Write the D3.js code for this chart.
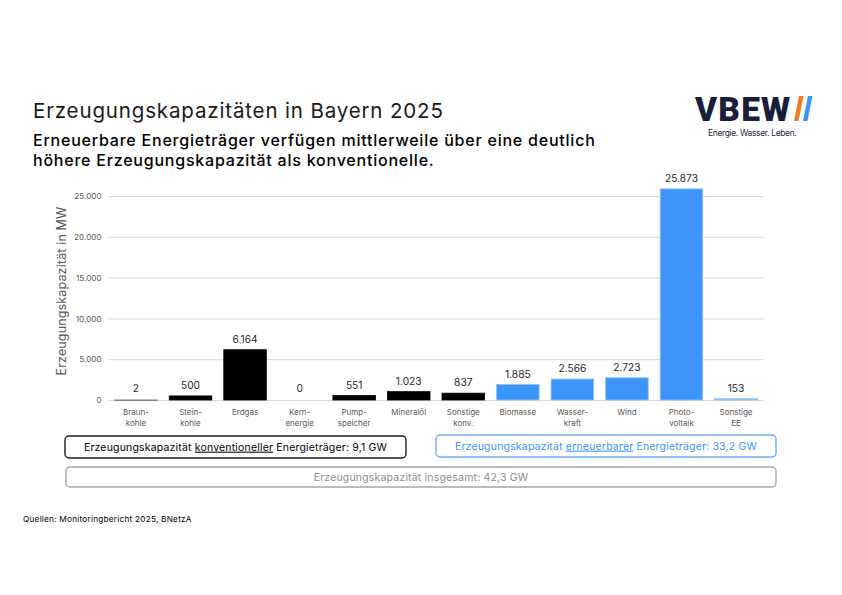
<!DOCTYPE html>
<html>
<head>
<meta charset="utf-8">
<script src="https://cdn.jsdelivr.net/npm/d3@7"></script>
<style>
  body { margin: 0; background: #fff; }
  svg { font-family: Inter, "Noto Sans", sans-serif; }
</style>
</head>
<body>
<svg width="842" height="595"></svg>
<script>
// chart data
const categories = ['Braunkohle', 'Steinkohle', 'Erdgas', 'Kernenergie', 'Pumpspeicher', 'Mineralöl',
  'Sonstige konv.', 'Biomasse', 'Wasserkraft', 'Wind', 'Photovoltaik', 'Sonstige EE'];
const categoryLines = [['Braun-', 'kohle'], ['Stein-', 'kohle'], ['Erdgas'], ['Kern-', 'energie'],
  ['Pump-', 'speicher'], ['Mineralöl'], ['Sonstige', 'konv.'], ['Biomasse'], ['Wasser-', 'kraft'],
  ['Wind'], ['Photo-', 'voltaik'], ['Sonstige', 'EE']];
const values = [2, 500, 6164, 0, 551, 1023, 837, 1885, 2566, 2723, 25873, 153];
const groups = ['konv', 'konv', 'konv', 'konv', 'konv', 'konv', 'konv', 'ee', 'ee', 'ee', 'ee', 'ee'];
const yTicks = [0, 5000, 10000, 15000, 20000, 25000];

const svg = d3.select('svg');
const fmt = d3.formatLocale({ decimal: ',', thousands: '.', grouping: [3], currency: ['', '€'] }).format(',d');

const margin = { left: 108.7, right: 842 - 763.3, top: 196, bottom: 595 - 400 };
const innerW = 842 - margin.left - margin.right;
const innerH = 595 - margin.top - margin.bottom;

const x = d3.scaleBand().domain(categories).range([0, innerW]).paddingInner(0.22).paddingOuter(0.11);
const y = d3.scaleLinear().domain([0, 25000]).range([innerH, 0]);

const g = svg.append('g').attr('transform', `translate(${margin.left},${margin.top})`);

// title block
svg.append('text').attr('x', 33).attr('y', 118)
  .attr('font-size', 20.5).attr('fill', '#1a1a1a').attr('letter-spacing', 0.85)
  .text('Erzeugungskapazitäten in Bayern 2025');
svg.append('text').attr('x', 33).attr('y', 146)
  .attr('font-size', 16).attr('font-weight', 500).attr('fill', '#000').attr('letter-spacing', 0.78)
  .text('Erneuerbare Energieträger verfügen mittlerweile über eine deutlich');
svg.append('text').attr('x', 33).attr('y', 166)
  .attr('font-size', 16).attr('font-weight', 500).attr('fill', '#000').attr('letter-spacing', 0.78)
  .text('höhere Erzeugungskapazität als konventionelle.');

// logo
const logo = svg.append('g');
logo.append('text').attr('x', 695).attr('y', 120.5)
  .attr('font-size', 33.5).attr('font-weight', 900).attr('fill', '#1b1e3a')
  .attr('letter-spacing', 1.2).attr('font-family', 'Roboto, sans-serif')
  .text('VBEW');
logo.append('path').attr('d', 'M799,96 L803.5,96 L798.5,121 L794,121 Z').attr('fill', '#f47c20');
logo.append('path').attr('d', 'M808,96 L812.5,96 L807.5,121 L803,121 Z').attr('fill', '#3d95fa');
logo.append('text').attr('x', 708).attr('y', 136)
  .attr('font-size', 8.4).attr('fill', '#1b1e3a').attr('letter-spacing', -0.3)
  .text('Energie. Wasser. Leben.');

// gridlines + y axis
const yAxis = d3.axisLeft(y).tickValues(yTicks).tickSize(-innerW).tickPadding(7).tickFormat(fmt);
g.append('g').call(yAxis)
  .call(s => s.select('.domain').remove())
  .call(s => s.selectAll('.tick line').attr('stroke', '#d9d9d9').attr('stroke-width', 1))
  .call(s => s.selectAll('.tick text').attr('fill', '#595959').attr('font-size', 8.2)
    .attr('font-family', 'Inter, "Noto Sans", sans-serif'));

g.append('text')
  .attr('transform', `translate(${62 - margin.left},${innerH / 2 - 7}) rotate(-90)`)
  .attr('text-anchor', 'middle').attr('dy', '0.35em')
  .attr('font-size', 12.5).attr('fill', '#595959').attr('letter-spacing', 0.15)
  .text('Erzeugungskapazität in MW');

// bars
g.selectAll('rect.bar').data(categories).join('rect')
  .attr('class', 'bar')
  .attr('x', d => x(d))
  .attr('width', x.bandwidth())
  .attr('y', (d, i) => y(values[i]))
  .attr('height', (d, i) => Math.max(0, y(0) - y(values[i])))
  .attr('fill', (d, i) => groups[i] === 'ee' ? '#3d95fa' : '#000')
  .attr('stroke', (d, i) => groups[i] === 'ee' ? '#8fc0fb' : '#000')
  .attr('stroke-width', 0.8);

// small values appear as a thin line at the base
g.selectAll('line.base').data(categories.filter((d, i) => values[i] > 0 && values[i] < 300)).join('line')
  .attr('class', 'base')
  .attr('x1', d => x(d)).attr('x2', d => x(d) + x.bandwidth())
  .attr('y1', y(0) - 0.5).attr('y2', y(0) - 0.5)
  .attr('stroke', d => groups[categories.indexOf(d)] === 'ee' ? '#8fc0fb' : '#bfbfbf')
  .attr('stroke-width', 1.2);

// value labels
g.selectAll('text.val').data(categories).join('text')
  .attr('class', 'val')
  .attr('x', d => x(d) + x.bandwidth() / 2)
  .attr('y', (d, i) => Math.min(y(values[i]), y(0) - 1) - 7)
  .attr('text-anchor', 'middle')
  .attr('font-size', 10.2).attr('fill', '#262626')
  .text((d, i) => fmt(values[i]));

// category labels
const cat = g.selectAll('text.cat').data(categories).join('text')
  .attr('class', 'cat')
  .attr('x', d => x(d) + x.bandwidth() / 2)
  .attr('y', innerH + 14.5)
  .attr('text-anchor', 'middle')
  .attr('font-size', 8).attr('fill', '#595959');
cat.selectAll('tspan').data((d, i) => categoryLines[i]).join('tspan')
  .attr('x', function () { return this.parentNode.getAttribute('x'); })
  .attr('dy', (d, i) => i === 0 ? 0 : 11.5)
  .text(d => d);

// summary boxes
const boxes = [
  { x: 65, y: 436, w: 341, h: 22, stroke: '#1a1a1a', color: '#000', sw: 1.4,
    parts: ['Erzeugungskapazität ', 'konventioneller', ' Energieträger: 9,1 GW'] },
  { x: 436, y: 435, w: 340, h: 22, stroke: '#6eaef9', color: '#3d95fa', sw: 1.4,
    parts: ['Erzeugungskapazität ', 'erneuerbarer', ' Energieträger: 33,2 GW'] },
  { x: 66, y: 467, w: 710, h: 20, stroke: '#a6a6a6', color: '#8c8c8c', sw: 1.4,
    parts: ['Erzeugungskapazität insgesamt: 42,3 GW'] }
];
boxes.forEach(b => {
  svg.append('rect').attr('x', b.x).attr('y', b.y).attr('width', b.w).attr('height', b.h)
    .attr('rx', 4).attr('fill', '#fff').attr('stroke', b.stroke).attr('stroke-width', b.sw);
  const t = svg.append('text').attr('x', b.x + b.w / 2).attr('y', b.y + b.h / 2)
    .attr('dy', '0.35em').attr('text-anchor', 'middle')
    .attr('font-size', 10.5).attr('fill', b.color).attr('letter-spacing', 0.18);
  b.parts.forEach((p, i) => {
    t.append('tspan').attr('text-decoration', i === 1 ? 'underline' : null).text(p);
  });
});

// source
svg.append('text').attr('x', 23).attr('y', 522)
  .attr('font-size', 8.2).attr('fill', '#000').attr('letter-spacing', 0.25)
  .text('Quellen: Monitoringbericht 2025, BNetzA');
</script>
</body>
</html>
